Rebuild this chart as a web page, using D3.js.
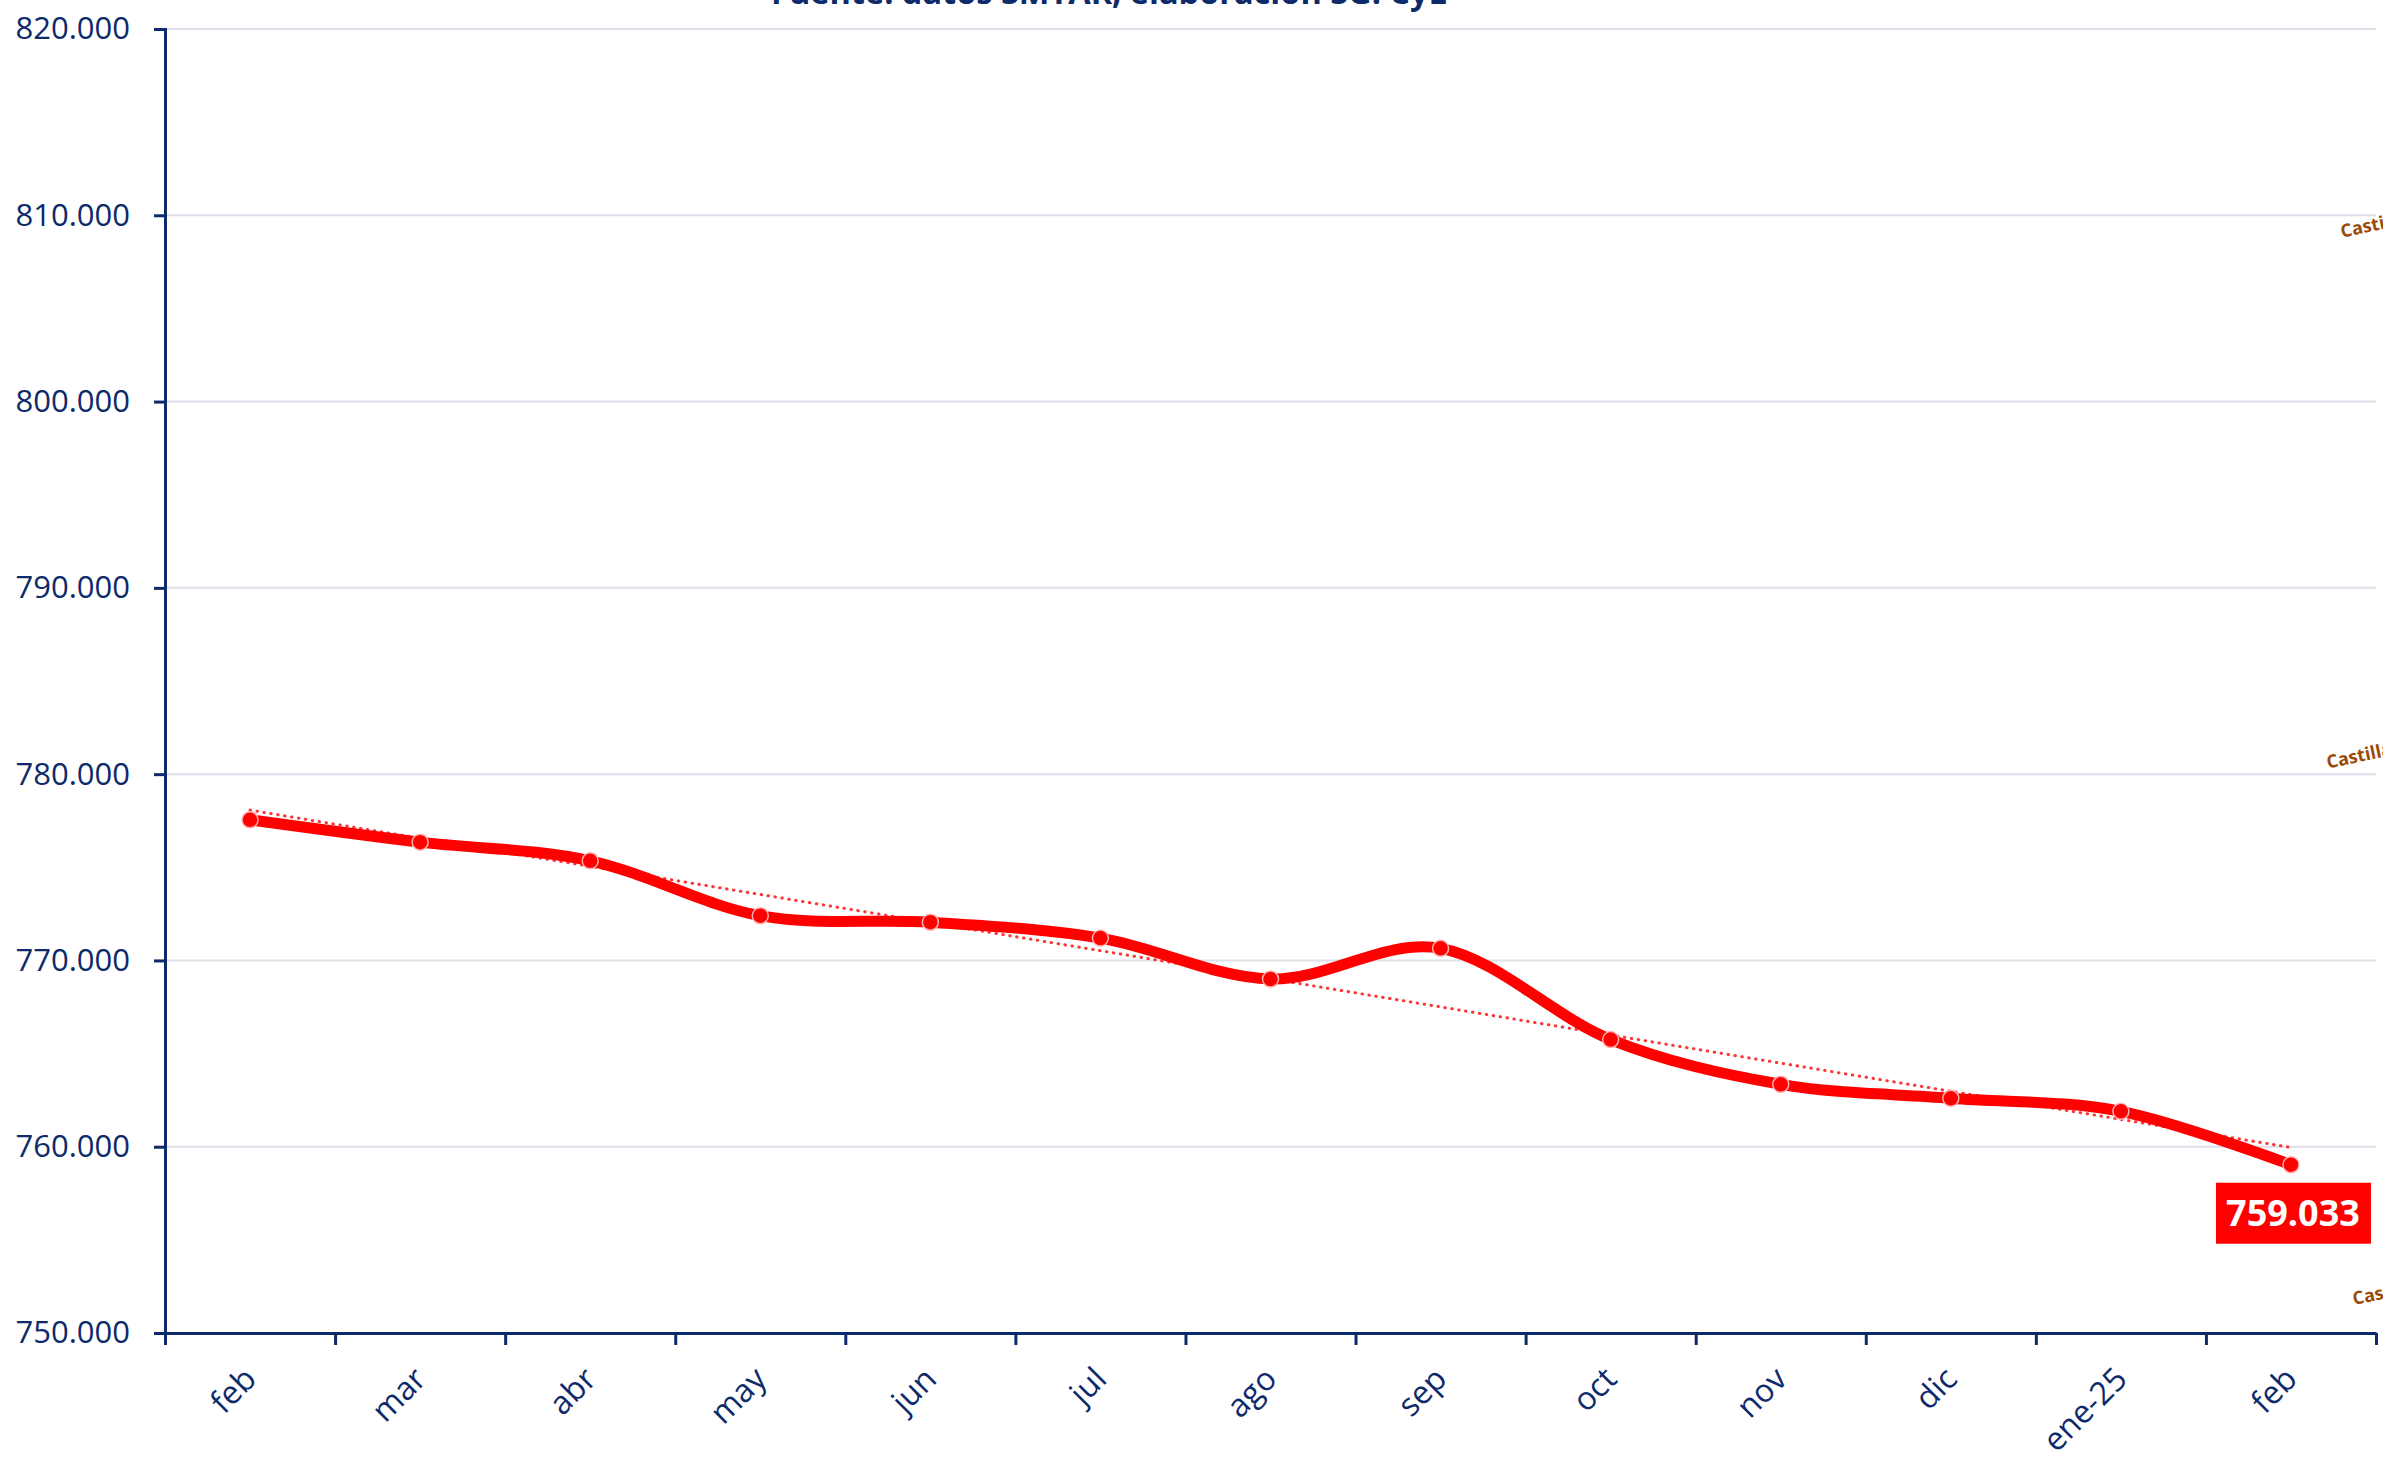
<!DOCTYPE html>
<html>
<head>
<meta charset="utf-8">
<script src="https://cdn.jsdelivr.net/npm/d3@7"></script>
<style>
  body { margin: 0; background: #fff; }
  svg { display: block; font-family: "Open Sans", "Noto Sans", sans-serif; }
</style>
</head>
<body>
<script>
// months on the x axis (feb 2024 -> feb 2025)
const months = ["feb", "mar", "abr", "may", "jun", "jul", "ago", "sep", "oct", "nov", "dic", "ene-25", "feb"]
// series values
const values = [777550, 776350, 775350, 772400, 772050, 771200, 769000, 770650, 765750, 763350, 762600, 761900, 759033]
const yTicks = [750000, 760000, 770000, 780000, 790000, 800000, 810000, 820000]
const sideLabels = ["Castilla y León", "Castilla y León", "Castilla y León"]
const sideLabelValues = [808800, 780300, 751500]
const titleText = "Fuente: datos SMTAR, elaboración SG. CyL"

const W = 2383, H = 1461
const margin = { top: 29, right: 7, bottom: 128, left: 165 }
const navy = "#0d2a6a"

const es = d3.formatLocale({ decimal: ",", thousands: ".", grouping: [3], currency: ["", " €"] })
const fmt = es.format(",.0f")

const svg = d3.select("body").append("svg")
    .attr("width", W)
    .attr("height", H)

svg.append("rect").attr("width", W).attr("height", H).attr("fill", "#fff")

const x = d3.scaleBand()
    .domain(d3.range(months.length))
    .range([margin.left, W - margin.right])

const xEdge = d3.scaleLinear()
    .domain([0, months.length])
    .range([margin.left, W - margin.right])

const y = d3.scaleLinear()
    .domain([750000, 820000])
    .range([H - margin.bottom, margin.top])

// gridlines
svg.append("g")
    .selectAll("line")
    .data(yTicks)
    .enter().append("line")
    .attr("x1", margin.left)
    .attr("x2", W - margin.right)
    .attr("y1", d => y(d))
    .attr("y2", d => y(d))
    .attr("stroke", "#dedfe8")
    .attr("stroke-width", 2)

// title (cropped at the top)
svg.append("text")
    .attr("x", 1109)
    .attr("y", 4)
    .attr("text-anchor", "middle")
    .attr("font-size", 32.5)
    .attr("font-weight", "bold")
    .attr("fill", navy)
    .text(titleText)

// y axis
const yAxis = svg.append("g")
    .attr("transform", "translate(" + margin.left + ",0)")
    .call(d3.axisLeft(y).tickValues(yTicks).tickFormat(fmt).tickSize(11).tickPadding(24))
yAxis.select(".domain").attr("stroke", navy).attr("stroke-width", 3)
yAxis.selectAll(".tick line").attr("stroke", navy).attr("stroke-width", 3)
yAxis.selectAll("text")
    .attr("fill", navy)
    .attr("font-size", 31)
    .attr("font-family", "'Open Sans', sans-serif")

// x axis with ticks between the categories
const xAxis = svg.append("g")
    .attr("transform", "translate(0," + y(750000) + ")")
    .call(d3.axisBottom(xEdge).tickValues(d3.range(months.length + 1)).tickFormat("").tickSize(12).tickSizeOuter(0))
xAxis.select(".domain").attr("stroke", navy).attr("stroke-width", 3)
xAxis.selectAll(".tick line").attr("stroke", navy).attr("stroke-width", 3)

svg.append("g")
    .selectAll("text")
    .data(months)
    .enter().append("text")
    .attr("transform", (d, i) => "translate(" + (x(i) + x.bandwidth() / 2 + 8) + "," + (y(750000) + 48) + ") rotate(-45)")
    .attr("text-anchor", "end")
    .attr("font-size", 32)
    .attr("fill", navy)
    .text(d => d)

// linear trend (dotted)
const n = values.length
const mx = d3.mean(d3.range(n)), my = d3.mean(values)
const slope = d3.sum(values, (v, i) => (i - mx) * (v - my)) / d3.sum(d3.range(n), i => (i - mx) * (i - mx))
const icpt = my - slope * mx
const cx = i => x(i) + x.bandwidth() / 2

svg.append("line")
    .attr("x1", cx(0)).attr("y1", y(icpt))
    .attr("x2", cx(n - 1)).attr("y2", y(icpt + slope * (n - 1)))
    .attr("stroke", "#ff2020")
    .attr("stroke-width", 3)
    .attr("stroke-linecap", "round")
    .attr("stroke-dasharray", "0.5,6.5")
    .attr("opacity", 0.9)

// smoothed series line
const line = d3.line()
    .x((d, i) => cx(i))
    .y(d => y(d))
    .curve(d3.curveCardinal.tension(0))

svg.append("path")
    .datum(values)
    .attr("d", line)
    .attr("fill", "none")
    .attr("stroke", "#ff0000")
    .attr("stroke-width", 11)

svg.selectAll(".dot")
    .data(values)
    .enter().append("circle")
    .attr("class", "dot")
    .attr("cx", (d, i) => cx(i))
    .attr("cy", d => y(d))
    .attr("r", 8)
    .attr("fill", "#ff0000")
    .attr("stroke", "#ffb0b0")
    .attr("stroke-width", 1.5)

// label of the last value
const last = values[n - 1]
const lbl = svg.append("g")
    .attr("transform", "translate(" + (cx(n - 1) + 2) + "," + (y(last) + 48) + ")")
lbl.append("rect")
    .attr("x", -77).attr("y", -30)
    .attr("width", 155).attr("height", 61)
    .attr("fill", "#ff0000")
lbl.append("text")
    .attr("text-anchor", "middle")
    .attr("dy", "0.36em")
    .attr("font-size", 36)
    .attr("font-weight", "bold")
    .attr("fill", "#fff")
    .text(fmt(last))

// cropped labels at the right edge
svg.append("g")
    .selectAll("text")
    .data(sideLabels)
    .enter().append("text")
    .attr("transform", (d, i) => "translate(" + [2342, 2328, 2354][i] + "," + y(sideLabelValues[i]) + ") rotate(-12)")
    .attr("font-size", 18)
    .attr("font-weight", "bold")
    .attr("fill", "#9a4a08")
    .text(d => d)
</script>
</body>
</html>
